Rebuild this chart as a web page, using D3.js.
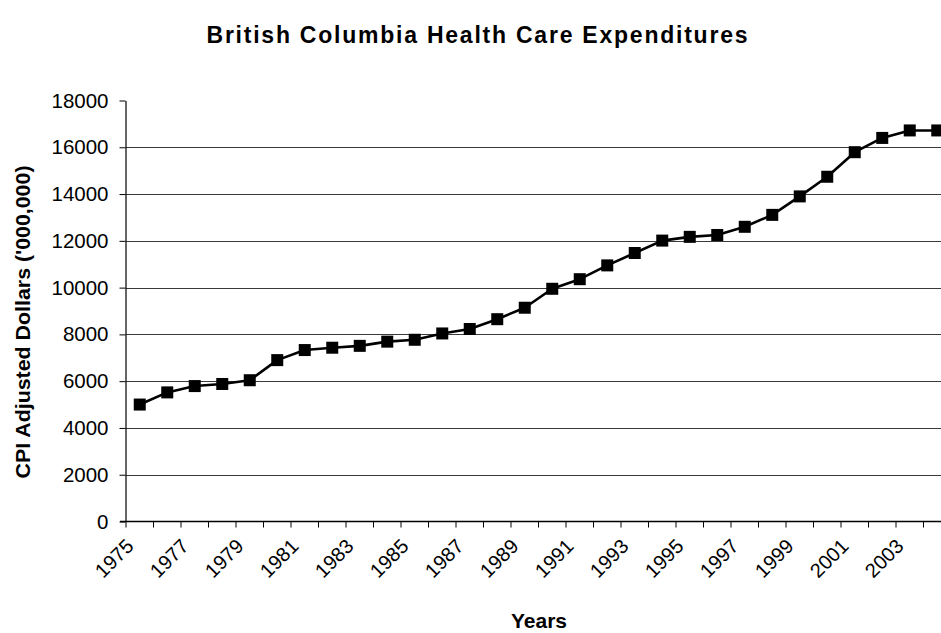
<!DOCTYPE html>
<html>
<head>
<meta charset="utf-8">
<script src="https://cdn.jsdelivr.net/npm/d3@7/dist/d3.min.js"></script>
<style>
  html, body { margin: 0; padding: 0; background: #fff; }
  svg { display: block; font-family: "Liberation Sans", Arial, sans-serif; }
</style>
</head>
<body>
<svg id="chart" width="941" height="633"></svg>
<script>
// Fiscal years and CPI-adjusted spending (millions of dollars)
const years = d3.range(1975, 2005);
const spending = [
  5000, 5520, 5790, 5880, 6040, 6900, 7330, 7430, 7510, 7690,
  7770, 8040, 8230, 8650, 9140, 9950, 10360, 10950, 11480, 12010,
  12170, 12250, 12600, 13110, 13900, 14740, 15790, 16400, 16720, 16720
];
const yTicks = [0, 2000, 4000, 6000, 8000, 10000, 12000, 14000, 16000, 18000];
const labelledYears = years.filter(y => y % 2 === 1);

const chartTitle = "British Columbia Health Care Expenditures";
const xTitle = "Years";
const yTitle = "CPI Adjusted Dollars ('000,000)";

const svg = d3.select("#chart");
const W = 941, H = 633;
svg.append("rect").attr("width", W).attr("height", H).attr("fill", "#fff");

const plot = { left: 126, top: 100.5, bottom: 521.5, band: 27.5 };
const x = d3.scaleBand()
  .domain(years)
  .range([plot.left, plot.left + plot.band * years.length])
  .padding(0);
const y = d3.scaleLinear().domain([0, 18000]).range([plot.bottom, plot.top]);

// Horizontal gridlines
svg.append("g")
  .selectAll("line")
  .data(yTicks.filter(t => t > 0 && t < 18000))
  .join("line")
  .attr("x1", plot.left).attr("x2", W)
  .attr("y1", d => Math.round(y(d)) + 0.5).attr("y2", d => Math.round(y(d)) + 0.5)
  .attr("stroke", "#3a3a3a").attr("stroke-width", 1);

// Y axis
const yAxis = svg.append("g")
  .attr("transform", `translate(${plot.left - 0.5},0)`)
  .call(d3.axisLeft(y).tickValues(yTicks).tickSize(6).tickSizeOuter(0).tickPadding(11)
    .tickFormat(d3.format("d")));
yAxis.select(".domain").attr("stroke", "#000").attr("stroke-width", 1.2);
yAxis.selectAll(".tick line").attr("stroke", "#000");
yAxis.selectAll("text")
  .attr("font-size", 20.5).attr("fill", "#000")
  .attr("font-family", "Liberation Sans, Arial, sans-serif");

// X axis: baseline, ticks between categories, labels on odd years
const xg = svg.append("g");
xg.append("line")
  .attr("x1", plot.left - 6).attr("x2", W)
  .attr("y1", plot.bottom).attr("y2", plot.bottom)
  .attr("stroke", "#000").attr("stroke-width", 1.4);
const edges = years.map(d => x(d)).concat([x(years[years.length - 1]) + x.bandwidth()]);
xg.selectAll("line.tick")
  .data(edges)
  .join("line")
  .attr("class", "tick")
  .attr("x1", d => d).attr("x2", d => d)
  .attr("y1", plot.bottom).attr("y2", plot.bottom + 6)
  .attr("stroke", "#000").attr("stroke-width", 1);

xg.selectAll("text.xlabel")
  .data(labelledYears)
  .join("text")
  .attr("class", "xlabel")
  .attr("transform", d => `translate(${x(d) + x.bandwidth() / 2 - 5},${plot.bottom + 26}) rotate(-45)`)
  .attr("text-anchor", "end")
  .attr("font-size", 20)
  .attr("fill", "#000")
  .text(d => d);

// Series line and square markers
const line = d3.line()
  .x((d, i) => x(years[i]) + x.bandwidth() / 2)
  .y(d => y(d));
svg.append("path")
  .datum(spending)
  .attr("d", line)
  .attr("fill", "none")
  .attr("stroke", "#000")
  .attr("stroke-width", 2.6)
  .attr("stroke-linejoin", "round");

const m = 12;
svg.append("g")
  .selectAll("rect")
  .data(spending)
  .join("rect")
  .attr("x", (d, i) => x(years[i]) + x.bandwidth() / 2 - m / 2)
  .attr("y", d => y(d) - m / 2)
  .attr("width", m).attr("height", m)
  .attr("fill", "#000");

// Titles
svg.append("text")
  .attr("x", 477).attr("y", 43)
  .attr("text-anchor", "middle")
  .attr("font-size", 23).attr("font-weight", "bold")
  .attr("textLength", 541).attr("lengthAdjust", "spacing")
  .text(chartTitle);

svg.append("text")
  .attr("x", 539).attr("y", 628)
  .attr("text-anchor", "middle")
  .attr("font-size", 21).attr("font-weight", "bold")
  .text(xTitle);

svg.append("text")
  .attr("transform", "translate(30,322) rotate(-90)")
  .attr("text-anchor", "middle")
  .attr("font-size", 21).attr("font-weight", "bold")
  .attr("textLength", 313).attr("lengthAdjust", "spacingAndGlyphs")
  .text(yTitle);
</script>
</body>
</html>
